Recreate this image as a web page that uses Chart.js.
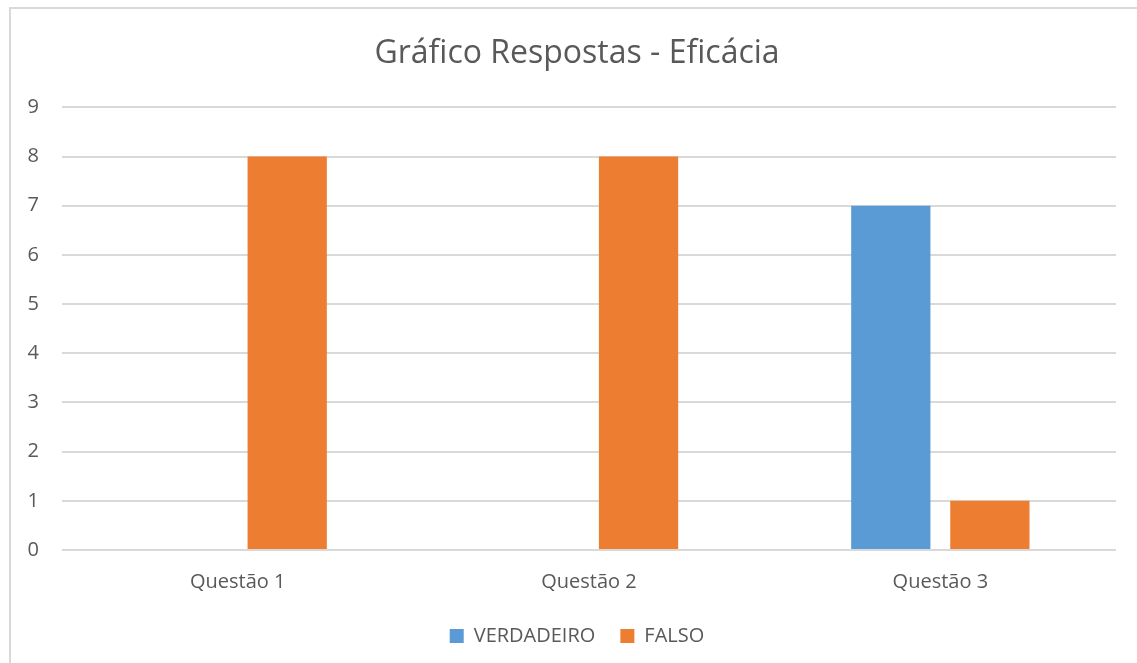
<!DOCTYPE html>
<html>
<head>
<meta charset="utf-8">
<script src="https://cdn.jsdelivr.net/npm/chart.js@4/dist/chart.umd.min.js"></script>
<style>
  body { margin: 0; background: #fff; overflow: hidden; }
  #box { position: absolute; left: 9px; top: 7px; right: -5px; bottom: -5px;
         border-left: 2px solid #d9d9d9; border-top: 2px solid #d9d9d9; pointer-events: none; }
  #wrap { position: absolute; left: 0; top: 0; width: 1154px; height: 663px; }
</style>
</head>
<body>
<div id="wrap"><canvas id="barChart"></canvas></div>
<div id="box"></div>
<script>
// dados
var categorias = ["Questão 1", "Questão 2", "Questão 3"]
var verdadeiro = [0, 0, 7]
var falso = [8, 8, 1]
var yTicks = [0, 1, 2, 3, 4, 5, 6, 7, 8, 9]

var cinza = "#595959"
var fonte = "'Open Sans', sans-serif"

var ctxB = document.getElementById("barChart").getContext('2d');
var myBarChart = new Chart(ctxB, {
    type: 'bar',
    data: {
        labels: categorias,
        datasets: [{
            label: "VERDADEIRO",
            data: verdadeiro,
            backgroundColor: "#5B9BD5",
            categoryPercentage: 0.564,
            barPercentage: 0.8
        }, {
            label: "FALSO",
            data: falso,
            backgroundColor: "#ED7D31",
            categoryPercentage: 0.564,
            barPercentage: 0.8
        }]
    },
    options: {
        responsive: true,
        maintainAspectRatio: false,
        animation: false,
        layout: { padding: { left: 0, right: 0, top: 0, bottom: 7 } },
        plugins: {
            title: {
                display: true,
                text: "Gráfico Respostas - Eficácia",
                color: cinza,
                font: { family: fonte, size: 32, weight: 'normal' },
                padding: { top: 35, bottom: 34 }
            },
            legend: {
                position: 'bottom',
                labels: {
                    color: cinza,
                    font: { family: fonte, size: 20 },
                    boxWidth: 14,
                    boxHeight: 14,
                    padding: 25
                }
            },
            tooltip: { enabled: false }
        },
        scales: {
            x: {
                afterFit: function (axis) { axis.height = 51 },
                grid: { display: false, drawTicks: false },
                border: { display: false },
                ticks: { color: cinza, font: { family: fonte, size: 20 }, padding: 20 }
            },
            y: {
                min: 0,
                max: 9,
                afterBuildTicks: function (axis) {
                    axis.ticks = yTicks.map(function (v) { return { value: v } })
                },
                afterFit: function (axis) { axis.width = 62 },
                grid: { color: "#d9d9d9", lineWidth: 2, drawTicks: false },
                border: { display: false },
                ticks: { color: cinza, font: { family: fonte, size: 20 }, padding: 23 }
            },
            y2: {
                position: 'right',
                afterFit: function (axis) { axis.width = 38 },
                grid: { display: false, drawTicks: false },
                border: { display: false },
                ticks: { display: false }
            }
        }
    }
});
</script>
</body>
</html>
